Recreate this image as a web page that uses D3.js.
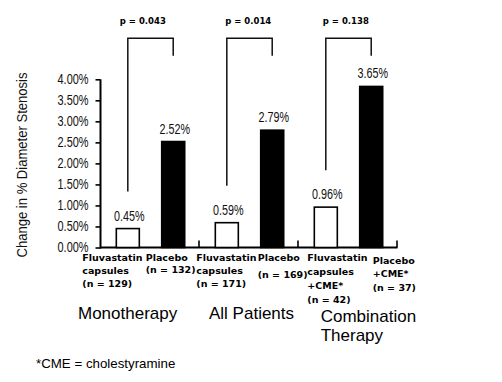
<!DOCTYPE html>
<html>
<head>
<meta charset="utf-8">
<script src="https://cdn.jsdelivr.net/npm/d3@7"></script>
<style>
  html, body { margin: 0; padding: 0; background: #fff; }
  svg { display: block; }
</style>
</head>
<body>
<svg id="chart" width="502" height="382"></svg>
<script>
// ---------------- data ----------------
const groups = ["Monotherapy", "All Patients", "Combination Therapy"];
const groupTitleLines = [["Monotherapy"], ["All Patients"], ["Combination", "Therapy"]];
const series = ["Fluvastatin", "Placebo"];
// bar heights as drawn in the picture (% change)
const fluvastatin = [0.45, 0.59, 0.96];
const placebo = [2.52, 2.79, 3.83];
// value labels as printed in the picture
const fluvastatinLabels = ["0.45%", "0.59%", "0.96%"];
const placeboLabels = ["2.52%", "2.79%", "3.65%"];
const pValues = ["p = 0.043", "p = 0.014", "p = 0.138"];
const fluvastatinNames = [
  ["Fluvastatin", "capsules", "(n = 129)"],
  ["Fluvastatin", "capsules", "(n = 171)"],
  ["Fluvastatin", "capsules", "+CME*", "(n = 42)"]
];
const placeboNames = [
  ["Placebo", "(n = 132)"],
  ["Placebo", "(n = 169)"],
  ["Placebo", "+CME*", "(n = 37)"]
];
const yTicks = [0, 0.5, 1, 1.5, 2, 2.5, 3, 3.5, 4];
const yTitle = "Change in % Diameter Stenosis";
const footnote = "*CME = cholestyramine";

// ---------------- layout ----------------
const fluvaNameDx = [-34, -19, -7];
const fluvaNameBase = [261, 261, 261.3];
const fluvaNameGap = [12.8, 12.8, 13.9];
const placNameDx = [-16, -3, 13];
const placNameBase = [261, 261, 263.6];
const placNameGap = [12, 16.5, 13.7];
const titleDx = [-22, 10, 22.7];
const titleBase = [319, 319, 321.5];
const pDx = [-8, -1.6, -3];

const svg = d3.select("#chart");
const condensedFont = "'Liberation Sans', Arial, sans-serif";
const boldFont = "'DejaVu Sans', Verdana, sans-serif";
const regular = "'Liberation Sans', Arial, sans-serif";

// squeeze text horizontally to imitate the condensed face of the original
function condense(sel, k) {
  sel.each(function () {
    const w = this.getComputedTextLength();
    d3.select(this).attr("textLength", w * k).attr("lengthAdjust", "spacingAndGlyphs");
  });
}

const y = d3.scaleLinear().domain([0, 4]).range([247.5, 79.3]);
const x0 = d3.scaleBand().domain(groups).range([100, 397]);
const x1 = d3.scaleBand().domain(series).range([0, x0.bandwidth()])
  .paddingInner(0.4934).paddingOuter(0.337).align(0.533);

const rows = groups.map((g, i) => ({ g, i, values: [fluvastatin[i], placebo[i]] }));

// y axis
const yAxis = d3.axisLeft(y).tickValues(yTicks).tickSize(5).tickPadding(7)
  .tickFormat(d => d3.format(".2f")(d) + "%");
const yg = svg.append("g").attr("transform", "translate(100.5,0)").call(yAxis);
yg.select(".domain").attr("d", `M0,${y(4)}V${y(0) + 1}`).attr("stroke", "#000").attr("stroke-width", 2);
yg.selectAll(".tick line").attr("stroke", "#000").attr("stroke-width", 1.6);
yg.selectAll(".tick text").attr("font-family", condensedFont).attr("font-size", 14).attr("fill", "#111")
  .call(condense, 0.78);

// x axis (baseline with upward ticks at group boundaries)
const xg = svg.append("g").attr("transform", `translate(0,${y(0)})`);
xg.append("line").attr("x1", 100).attr("x2", x0.range()[1] + 0.5)
  .attr("stroke", "#000").attr("stroke-width", 2);
xg.selectAll("line.tk").data(groups).enter().append("line").attr("class", "tk")
  .attr("x1", d => x0(d) + x0.bandwidth()).attr("x2", d => x0(d) + x0.bandwidth())
  .attr("y1", 0).attr("y2", -7).attr("stroke", "#000").attr("stroke-width", 1.6);

// bars
const gg = svg.selectAll("g.grp").data(rows).enter().append("g").attr("class", "grp")
  .attr("transform", d => `translate(${x0(d.g)},0)`);
gg.selectAll("rect").data(d => d.values.map((v, k) => ({ s: series[k], v, k }))).enter()
  .append("rect")
  .attr("x", d => x1(d.s)).attr("width", x1.bandwidth())
  .attr("y", d => y(d.v)).attr("height", d => y(0) - y(d.v))
  .attr("fill", d => d.k === 0 ? "#fff" : "#000")
  .attr("stroke", "#000").attr("stroke-width", 1.6);

// value labels
gg.selectAll("text.val").data(d => d.values.map((v, k) => ({ s: series[k], v, k, i: d.i }))).enter()
  .append("text").attr("class", "val")
  .attr("x", d => x1(d.s) + x1.bandwidth() / 2 + 1.5)
  .attr("y", d => y(d.v) - 8)
  .attr("text-anchor", "middle")
  .attr("font-family", condensedFont).attr("font-size", 14).attr("fill", "#111")
  .text(d => d.k === 0 ? fluvastatinLabels[d.i] : placeboLabels[d.i])
  .call(condense, 0.77);

// category names under bars
rows.forEach((r, i) => {
  const bx0 = x0(r.g) + x1("Fluvastatin");
  const bx1 = x0(r.g) + x1("Placebo");
  const t0 = svg.append("text").attr("font-family", boldFont).attr("font-weight", "bold")
    .attr("font-size", 9.5).attr("fill", "#000");
  fluvastatinNames[i].forEach((ln, j) => {
    t0.append("tspan").attr("x", bx0 + fluvaNameDx[i]).attr("y", fluvaNameBase[i] + j * fluvaNameGap[i]).text(ln);
  });
  const t1 = svg.append("text").attr("font-family", boldFont).attr("font-weight", "bold")
    .attr("font-size", 9.5).attr("fill", "#000");
  placeboNames[i].forEach((ln, j) => {
    t1.append("tspan").attr("x", bx1 + placNameDx[i]).attr("y", placNameBase[i] + j * placNameGap[i]).text(ln);
  });
  // group titles
  const tt = svg.append("text").attr("font-family", regular).attr("font-size", 17).attr("fill", "#000");
  groupTitleLines[i].forEach((ln, j) => {
    tt.append("tspan").attr("x", x0(r.g) + titleDx[i]).attr("y", titleBase[i] + j * 19).text(ln);
  });
  // significance brackets
  const cx0 = bx0 + x1.bandwidth() / 2;
  const cx1 = bx1 + x1.bandwidth() / 2;
  const topY = 38.3;
  svg.append("path")
    .attr("d", `M${cx0},${y(fluvastatin[i]) - 37}V${topY}H${cx1}V55.7`)
    .attr("fill", "none").attr("stroke", "#111").attr("stroke-width", 1.5);
  svg.append("text").attr("x", cx0 + pDx[i]).attr("y", 23.5)
    .attr("font-family", boldFont).attr("font-weight", "bold").attr("font-size", 8.5)
    .attr("fill", "#000").text(pValues[i]);
});

// y title
svg.append("text")
  .attr("transform", `translate(27,165) rotate(-90)`)
  .attr("text-anchor", "middle")
  .attr("font-family", condensedFont).attr("font-size", 15.5).attr("fill", "#111")
  .text(yTitle)
  .call(condense, 0.842);

// footnote
svg.append("text").attr("x", 36).attr("y", 368)
  .attr("font-family", regular).attr("font-size", 13.3).attr("fill", "#000")
  .text(footnote);
</script>
</body>
</html>
